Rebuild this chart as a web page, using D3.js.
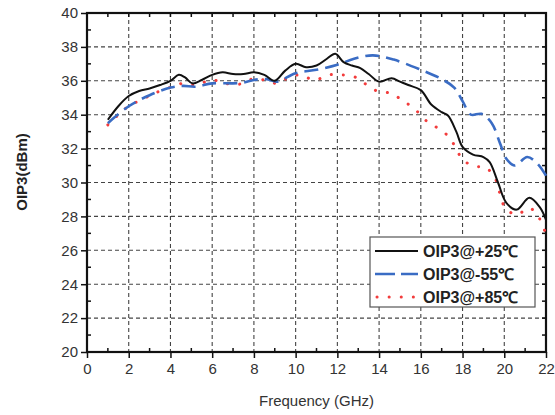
<!DOCTYPE html>
<html><head><meta charset="utf-8">
<script src="https://cdn.jsdelivr.net/npm/d3@7"></script>
<style>html,body{margin:0;padding:0;background:#fff;}svg{display:block;}</style>
</head><body>
<script>
const seriesNames = ["OIP3@+25\u2103", "OIP3@-55\u2103", "OIP3@+85\u2103"];
const xTicks = [0,2,4,6,8,10,12,14,16,18,20,22];
const yTicks = [20,22,24,26,28,30,32,34,36,38,40];

const freq25 = [1,1.5,2,2.5,3,3.5,4,4.4,4.7,5.05,5.5,6,6.5,7,7.5,8,8.5,9,9.5,10,10.5,11,11.5,11.9,12.3,12.7,13.1,13.5,14,14.6,15,15.4,16,16.5,17,17.3,17.7,18,18.5,19,19.3,19.7,20.1,20.6,21.2,21.7,22];
const oip25 = [33.7,34.5,35.1,35.4,35.55,35.75,36.0,36.35,36.2,35.85,36.05,36.35,36.5,36.4,36.4,36.5,36.35,36.0,36.6,37.0,36.8,36.9,37.3,37.6,37.1,36.9,36.75,36.4,35.95,36.15,35.95,35.75,35.45,34.6,34.15,33.95,33.0,32.1,31.65,31.5,31.2,30.0,28.8,28.4,29.1,28.55,27.8];

const freqM55 = [1,2,3,4,4.6,5.2,6,7,7.5,8,8.6,9.1,10,11,12,12.8,13.7,14.7,16,17,17.6,18,18.4,18.9,19.4,19.8,20.1,20.5,21.1,21.6,22];
const oipM55 = [33.5,34.5,35.15,35.6,35.7,35.65,35.85,35.85,35.9,36.05,36.1,35.95,36.45,36.65,36.95,37.3,37.5,37.25,36.65,36.1,35.6,34.8,34.0,34.05,33.5,32.3,31.4,31.0,31.5,31.1,30.4];

const freq85 = [1,1.6,2,2.8,3.4,4.1,4.6,5.2,6,6.6,7.3,7.9,8.5,9.1,9.6,10.2,10.9,11.6,12.2,12.8,13.3,13.9,14.6,15.1,15.7,16.2,16.7,17.3,17.7,18,18.6,19.1,19.6,19.8,20.05,20.6,21.2,21.7,22];
const oip85 = [33.4,34.1,34.5,35.0,35.35,35.65,35.85,35.75,36.05,35.85,35.8,36.1,36.05,35.85,36.15,36.35,36.05,36.35,36.35,36.25,35.85,35.4,35.25,34.85,34.35,33.7,33.3,32.75,32.0,31.35,30.95,30.9,30.15,29.3,28.5,28.1,28.5,27.85,26.9];

const W = 555, H = 415;
const m = {left: 87, top: 13, right: 9, bottom: 63};
const iw = W - m.left - m.right, ih = H - m.top - m.bottom;

const svg = d3.select("body").append("svg").attr("width", W).attr("height", H)
  .style("font-family", "'Liberation Sans', Arial, sans-serif");
svg.append("rect").attr("width", W).attr("height", H).attr("fill", "#fff");
const g = svg.append("g").attr("transform", `translate(${m.left},${m.top})`);

const x = d3.scaleLinear().domain([0,22]).range([0, iw]);
const y = d3.scaleLinear().domain([20,40]).range([ih, 0]);

// grid
const gridColor = "#444";
g.append("g").selectAll("line").data(xTicks.filter(t => t > 0 && t < 22)).join("line")
  .attr("x1", d => x(d)).attr("x2", d => x(d)).attr("y1", 0).attr("y2", ih)
  .attr("stroke", gridColor).attr("stroke-width", 1.1).attr("stroke-dasharray", "4,3");
g.append("g").selectAll("line").data(yTicks.filter(t => t > 20 && t < 40)).join("line")
  .attr("y1", d => y(d)).attr("y2", d => y(d)).attr("x1", 0).attr("x2", iw)
  .attr("stroke", gridColor).attr("stroke-width", 1.1).attr("stroke-dasharray", "4,3");

// minor/major ticks
const minorX = d3.range(1, 22, 2);
const minorY = d3.range(21, 40, 2);
const allX = d3.range(0, 23, 1);
const allY = d3.range(20, 41, 1);
const tk = g.append("g").attr("stroke", "#111").attr("stroke-width", 1.5);
tk.selectAll(".bm").data(minorX).join("line").attr("x1", d => x(d)).attr("x2", d => x(d)).attr("y1", ih).attr("y2", ih - 4);
tk.selectAll(".lm").data(minorY).join("line").attr("y1", d => y(d)).attr("y2", d => y(d)).attr("x1", 0).attr("x2", 4);
tk.selectAll(".tm").data(allX).join("line").attr("x1", d => x(d)).attr("x2", d => x(d)).attr("y1", 0).attr("y2", 4);
tk.selectAll(".rm").data(allY).join("line").attr("y1", d => y(d)).attr("y2", d => y(d)).attr("x1", iw).attr("x2", iw - 4);

// axes with major ticks outward
const xAxis = g.append("g").attr("transform", `translate(0,${ih})`)
  .call(d3.axisBottom(x).tickValues(xTicks).tickSize(6).tickPadding(5).tickSizeOuter(0));
const yAxis = g.append("g")
  .call(d3.axisLeft(y).tickValues(yTicks).tickSize(6).tickPadding(3).tickSizeOuter(0));
[xAxis, yAxis].forEach(a => {
  a.select(".domain").remove();
  a.selectAll(".tick line").attr("stroke", "#111").attr("stroke-width", 1.5);
  a.selectAll(".tick text").attr("fill", "#333").style("font-size", "15px")
    .style("font-family", "'Liberation Sans', Arial, sans-serif");
});

// frame
g.append("rect").attr("x", 0).attr("y", 0).attr("width", iw).attr("height", ih)
  .attr("fill", "none").attr("stroke", "#111").attr("stroke-width", 2.2);

// curves
const line = d3.line().x(d => x(d[0])).y(d => y(d[1])).curve(d3.curveCatmullRom.alpha(0.5));
const zip = (a, b) => a.map((v, i) => [v, b[i]]);
const styles = [
  {color: "#111", width: 2, dash: null, cap: "butt"},
  {color: "#3a6cc4", width: 2.6, dash: "14,7", cap: "butt"},
  {color: "#f23c3c", width: 3, dash: "0.1,12", cap: "round"}
];
const data = [zip(freq25, oip25), zip(freqM55, oipM55), zip(freq85, oip85)];
svg.append("clipPath").attr("id", "pc").append("rect")
  .attr("x", 0).attr("y", 0).attr("width", iw + 1).attr("height", ih);
const cg = g.append("g").attr("clip-path", "url(#pc)");
[2,1,0].forEach(i => {
  cg.append("path").datum(data[i]).attr("d", line).attr("fill", "none")
    .attr("stroke", styles[i].color).attr("stroke-width", styles[i].width)
    .attr("stroke-dasharray", styles[i].dash).attr("stroke-linecap", styles[i].cap)
    .attr("stroke-linejoin", "round");
});

// legend
const lg = svg.append("g").attr("transform", "translate(370,237)");
lg.append("rect").attr("width", 165).attr("height", 70).attr("fill", "#fff")
  .attr("stroke", "#555").attr("stroke-width", 1.2);
seriesNames.forEach((name, i) => {
  const yy = 14 + i * 23;
  lg.append("line").attr("x1", 5).attr("x2", 48).attr("y1", yy).attr("y2", yy)
    .attr("stroke", styles[i].color).attr("stroke-width", styles[i].width)
    .attr("stroke-dasharray", i === 1 ? "20,6" : styles[i].dash).attr("stroke-linecap", styles[i].cap)
    .attr("transform", i === 2 ? "translate(2,0)" : null);
  lg.append("text").attr("x", 53).attr("y", yy + 6).text(name)
    .attr("fill", "#222").style("font-size", "16px").style("font-weight", "bold");
});

// titles
svg.append("text").attr("x", m.left + iw / 2).attr("y", 406).attr("text-anchor", "middle")
  .attr("fill", "#333").style("font-size", "15px").text("Frequency (GHz)");
svg.append("text").attr("transform", "translate(27,172) rotate(-90)").attr("text-anchor", "middle")
  .attr("fill", "#222").style("font-size", "15px").style("font-weight", "bold").text("OIP3(dBm)");
</script>
</body></html>
